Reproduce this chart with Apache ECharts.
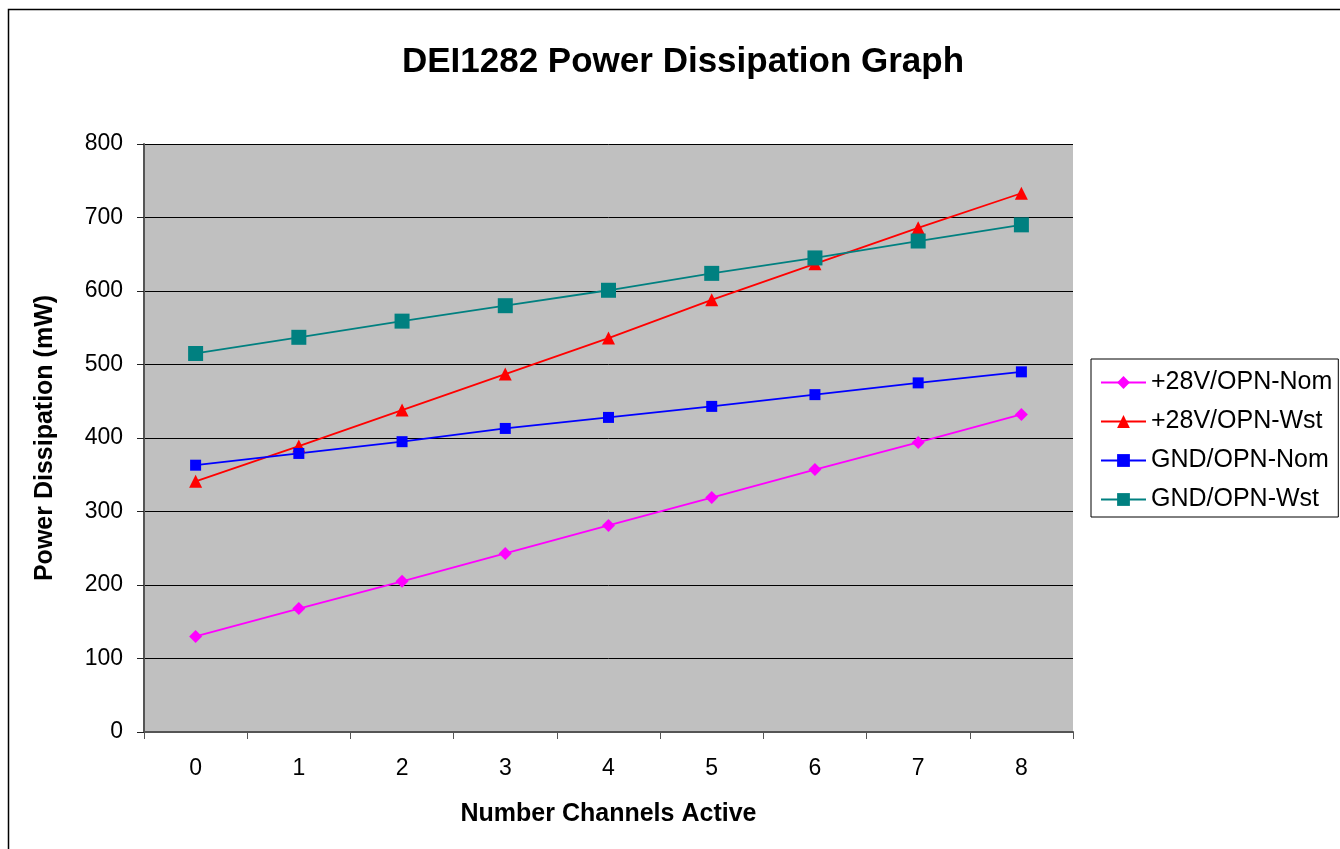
<!DOCTYPE html>
<html>
<head>
<meta charset="utf-8">
<script src="https://cdn.jsdelivr.net/npm/echarts@6/dist/echarts.min.js"></script>
<style>
html,body{margin:0;padding:0;background:#fff;}
#c{width:1340px;height:849px;}
</style>
</head>
<body>
<div id="c"></div>
<script>
const categories = ['0','1','2','3','4','5','6','7','8'];
const seriesNames = ['+28V/OPN-Nom','+28V/OPN-Wst','GND/OPN-Nom','GND/OPN-Wst'];
const nom28 = [130, 168, 205, 243, 281, 319, 357, 394, 432];
const wst28 = [341, 389, 438, 487, 536, 588, 637, 686, 733];
const nomGnd = [363, 379, 395, 413, 428, 443, 459, 475, 490];
const wstGnd = [515, 537, 559, 580, 601, 624, 645, 668, 690];

const font = '"Liberation Sans", Arial, sans-serif';
const chart = echarts.init(document.getElementById('c'));
chart.setOption({
  animation: false,
  backgroundColor: '#fff',
  textStyle: {fontFamily: font},
  title: {
    text: 'DEI1282 Power Dissipation Graph',
    left: 678, top: 40, textAlign: 'center',
    textStyle: {fontSize: 35, fontWeight: 'bold', color: '#000', fontFamily: font}
  },
  graphic: [{
    type: 'rect', shape: {x: 8.5, y: 9.5, width: 1340, height: 850},
    style: {fill: 'none', stroke: '#000', lineWidth: 1.5}, silent: true
  }],
  legend: {
    orient: 'vertical', left: 1091, top: 359,
    data: seriesNames,
    borderColor: '#000', borderWidth: 1,
    padding: [11, 6, 5, 9], itemGap: 14,
    itemWidth: 45, itemHeight: 16,
    textStyle: {fontSize: 25, color: '#000', fontFamily: font}
  },
  grid: {
    left: 144, right: 267, top: 144, bottom: 117,
    show: true, backgroundColor: '#c0c0c0', borderWidth: 0
  },
  xAxis: {
    type: 'category', data: categories, boundaryGap: true,
    name: 'Number Channels Active', nameLocation: 'middle', nameGap: 70,
    nameTextStyle: {fontSize: 25, fontWeight: 'bold', color: '#000', fontFamily: font},
    axisLine: {lineStyle: {color: '#555', width: 2}},
    axisTick: {show: true, alignWithLabel: false, length: 7, lineStyle: {color: '#555'}},
    axisLabel: {fontSize: 23, color: '#000', margin: 25, fontFamily: font},
    splitLine: {show: false}
  },
  yAxis: {
    type: 'value', min: 0, max: 800, interval: 100,
    name: 'Power Dissipation (mW)', nameLocation: 'middle', nameGap: 86,
    nameTextStyle: {fontSize: 25, fontWeight: 'bold', color: '#000', fontFamily: font},
    axisLine: {show: true, lineStyle: {color: '#555', width: 2}},
    axisTick: {show: true, length: 7, lineStyle: {color: '#222'}},
    axisLabel: {fontSize: 23, color: '#000', margin: 21, fontFamily: font},
    splitLine: {show: true, lineStyle: {color: '#000', width: 1}}
  },
  series: [
    {name: seriesNames[0], type: 'line', data: nom28, symbol: 'diamond', symbolSize: 13,
     itemStyle: {color: '#ff00ff'}, lineStyle: {color: '#ff00ff', width: 1.8}},
    {name: seriesNames[1], type: 'line', data: wst28, symbol: 'triangle', symbolSize: 13,
     itemStyle: {color: '#ff0000'}, lineStyle: {color: '#ff0000', width: 1.8}},
    {name: seriesNames[2], type: 'line', data: nomGnd, symbol: 'rect', symbolSize: 11,
     itemStyle: {color: '#0000ff'}, lineStyle: {color: '#0000ff', width: 1.8}},
    {name: seriesNames[3], type: 'line', data: wstGnd, symbol: 'rect', symbolSize: 15,
     itemStyle: {color: '#008080'}, lineStyle: {color: '#008080', width: 1.8}}
  ]
});
</script>
</body>
</html>
